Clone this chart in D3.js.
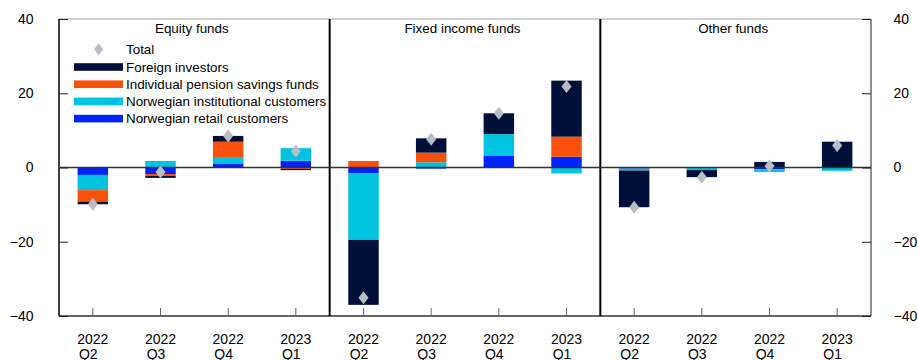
<!DOCTYPE html>
<html>
<head>
<meta charset="utf-8">
<script src="https://cdn.jsdelivr.net/npm/d3@7"></script>
<style>
  html, body { margin: 0; padding: 0; background: #fff; }
  svg { display: block; font-family: "Liberation Sans", Arial, sans-serif; }
</style>
</head>
<body>
<svg id="chart" width="918" height="360"></svg>
<script>
// Net flows into mutual funds by investor group, NOK billions
const panels = ["Equity funds", "Fixed income funds", "Other funds"];
const years = ["2022", "2022", "2022", "2023"];
const quarters = ["Q2", "Q3", "Q4", "Q1"];
const yTicks = [-40, -20, 0, 20, 40];

// Values per quarter, panel after panel (equity, fixed income, other)
const retail        = [-2.0, -1.75, 1.1, 1.8,   -1.6, -0.3, 3.1, 2.9,   -0.3, -0.1, -0.5, 0];
const institutional = [-4.1, 1.75, 1.5, 3.4,    -17.9, 1.4, 5.9, -1.6,  -0.5, -0.6, -0.7, -0.9];
const pension       = [-3.1, -0.55, 4.35, -0.4, 1.75, 2.6, 0, 5.4,      0, 0, 0, 0];
const foreign       = [-0.7, -0.5, 1.55, -0.3,  -17.5, 3.85, 5.6, 15.1, -9.9, -1.9, 1.5, 6.95];
const total         = [-9.9, -1.2, 8.5, 4.4,    -35.1, 7.6, 14.6, 21.8, -10.7, -2.6, 0.4, 5.9];

const seriesKeys = ["retail", "institutional", "pension", "foreign"];
const seriesLabels = {
  foreign: "Foreign investors",
  pension: "Individual pension savings funds",
  institutional: "Norwegian institutional customers",
  retail: "Norwegian retail customers"
};
const colors = {
  foreign: "#000f38",
  pension: "#f9510b",
  institutional: "#00c3e0",
  retail: "#0022ff"
};
const diamondColor = "#b7bec5";

const rows = total.map((t, i) => ({
  key: "c" + i,
  panel: Math.floor(i / 4),
  q: i % 4,
  retail: retail[i],
  institutional: institutional[i],
  pension: pension[i],
  foreign: foreign[i],
  total: t
}));

const svg = d3.select("#chart");
const plotLeft = 59, plotRight = 871, plotTop = 19, plotBottom = 316;

const x = d3.scaleBand()
  .domain(rows.map(d => d.key))
  .range([plotLeft, plotRight])
  .paddingInner(0.55)
  .paddingOuter(0.275);
const step = x.step();

const y = d3.scaleLinear().domain([-40, 40]).range([plotBottom, plotTop]);

const stacked = d3.stack()
  .keys(seriesKeys)
  .offset(d3.stackOffsetDiverging)(rows);

// Bars
svg.append("g").selectAll("g")
  .data(stacked)
  .join("g")
  .attr("fill", s => colors[s.key])
  .selectAll("rect")
  .data(s => s)
  .join("rect")
  .attr("x", d => x(d.data.key))
  .attr("width", x.bandwidth())
  .attr("y", d => y(Math.max(d[0], d[1])))
  .attr("height", d => Math.abs(y(d[0]) - y(d[1])));

// Frame
const frame = svg.append("g").attr("fill", "none");
frame.append("line").attr("x1", plotLeft).attr("x2", plotRight).attr("y1", plotTop).attr("y2", plotTop)
  .attr("stroke", "#a6a6a6").attr("stroke-width", 1.2);
frame.append("line").attr("x1", plotRight).attr("x2", plotRight).attr("y1", plotTop).attr("y2", plotBottom)
  .attr("stroke", "#444").attr("stroke-width", 1.2);
frame.append("line").attr("x1", plotLeft).attr("x2", plotRight).attr("y1", plotBottom).attr("y2", plotBottom)
  .attr("stroke", "#333").attr("stroke-width", 1.5);
frame.append("line").attr("x1", plotLeft).attr("x2", plotLeft).attr("y1", plotTop).attr("y2", plotBottom)
  .attr("stroke", "#111").attr("stroke-width", 1.6);
[1, 2].forEach(p => {
  const px = plotLeft + p * 4 * step;
  frame.append("line").attr("x1", px).attr("x2", px).attr("y1", plotTop).attr("y2", plotBottom)
    .attr("stroke", "#000").attr("stroke-width", 2);
});

// Zero line
svg.append("line")
  .attr("x1", plotLeft).attr("x2", plotRight)
  .attr("y1", y(0)).attr("y2", y(0))
  .attr("stroke", "#333").attr("stroke-width", 1.5);

// Y axes (ticks point inward, labels outside)
const styleAxis = g => {
  g.select(".domain").remove();
  g.selectAll(".tick line").attr("stroke", "#222").attr("stroke-width", 1);
  g.selectAll(".tick text").attr("fill", "#000").attr("font-size", 14)
    .attr("font-family", "Liberation Sans, Arial, sans-serif");
};
svg.append("g")
  .attr("transform", `translate(${plotLeft},0)`)
  .call(d3.axisLeft(y).tickValues(yTicks).tickSizeInner(-9).tickSizeOuter(0).tickPadding(25.5))
  .call(styleAxis);
svg.append("g")
  .attr("transform", `translate(${plotRight},0)`)
  .call(d3.axisRight(y).tickValues(yTicks).tickSizeInner(-9).tickSizeOuter(0).tickPadding(22.5))
  .call(styleAxis);

// X axis ticks and two-line category labels
const xAxis = svg.append("g")
  .attr("transform", `translate(0,${plotBottom})`)
  .call(d3.axisBottom(x).tickSizeInner(-8).tickSizeOuter(0).tickFormat(""));
xAxis.select(".domain").remove();
xAxis.selectAll(".tick line").attr("stroke", "#666").attr("stroke-width", 1);

const labels = svg.append("g")
  .attr("font-size", 14)
  .attr("fill", "#000")
  .attr("text-anchor", "middle");
rows.forEach(d => {
  const cx = x(d.key) + x.bandwidth() / 2;
  labels.append("text").attr("x", cx).attr("y", 343.5).text(years[d.q]);
  labels.append("text").attr("x", cx - 4.5).attr("y", 358.5).text(quarters[d.q]);
});

// Panel titles
svg.append("g")
  .attr("font-size", 13.4)
  .attr("fill", "#000")
  .attr("text-anchor", "middle")
  .selectAll("text")
  .data(panels)
  .join("text")
  .attr("x", (d, i) => plotLeft + (i * 4 + 2) * step - 2.5)
  .attr("y", 33)
  .text(d => d);

// Total markers
const diamond = (cx, cy, w, h) =>
  `M${cx},${cy - h}L${cx + w},${cy}L${cx},${cy + h}L${cx - w},${cy}Z`;
svg.append("g")
  .attr("fill", diamondColor)
  .selectAll("path")
  .data(rows)
  .join("path")
  .attr("d", d => diamond(x(d.key) + x.bandwidth() / 2, y(d.total), 5, 6.5));

// Legend
const legend = svg.append("g").attr("font-size", 13.4).attr("fill", "#000");
legend.append("path").attr("d", diamond(98.7, 49.3, 4.5, 6)).attr("fill", diamondColor);
legend.append("text").attr("x", 126).attr("y", 49.3).attr("dy", "0.35em").text("Total");
const legendKeys = ["foreign", "pension", "institutional", "retail"];
const legendY = [67, 84.2, 101.4, 118.6];
legendKeys.forEach((k, i) => {
  legend.append("rect")
    .attr("x", 74).attr("y", legendY[i] - 3.8)
    .attr("width", 49).attr("height", 7.6)
    .attr("fill", colors[k]);
  legend.append("text")
    .attr("x", 126).attr("y", legendY[i]).attr("dy", "0.35em")
    .text(seriesLabels[k]);
});
</script>
</body>
</html>
